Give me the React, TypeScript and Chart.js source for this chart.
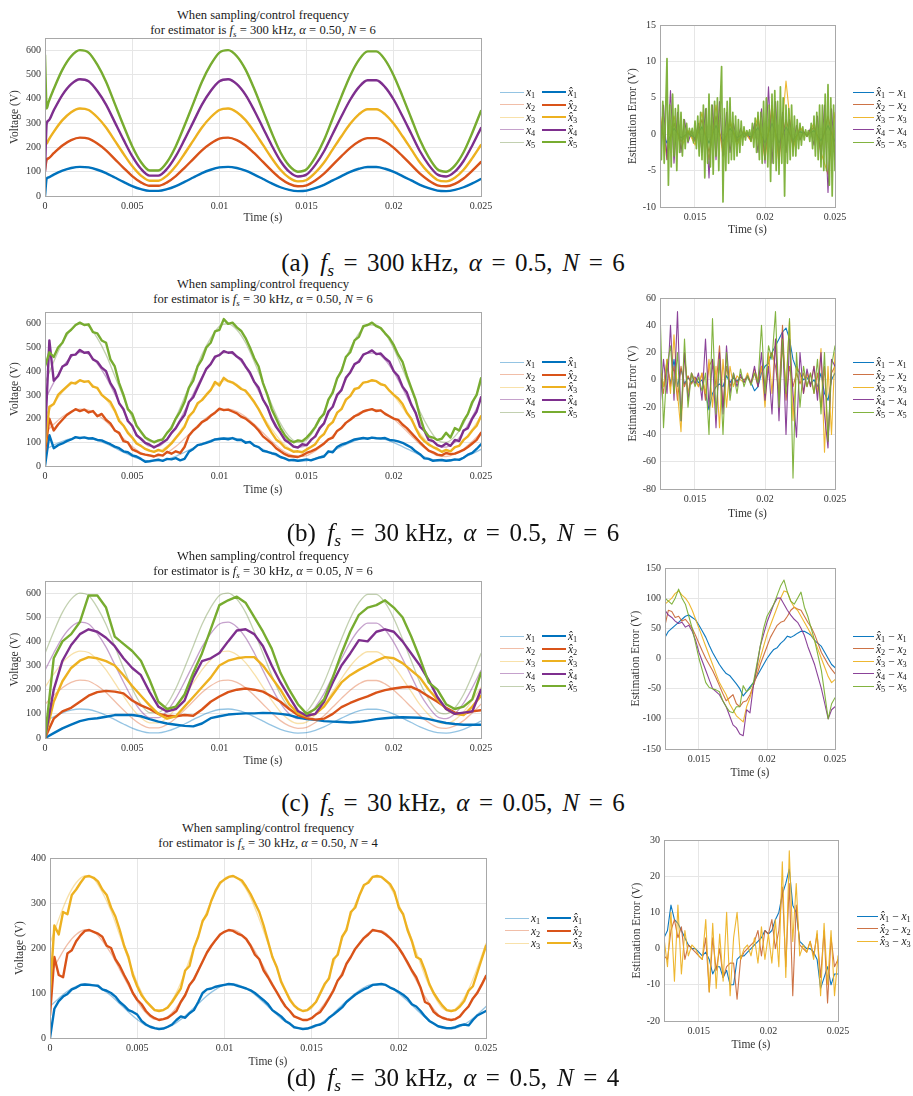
import React, { useEffect, useRef } from 'react';
import { Chart, registerables } from 'chart.js';
Chart.register(...registerables);

const FONT = "'Liberation Serif', 'Times New Roman', serif";
const COLORS = ['#0072BD', '#D95319', '#EDB120', '#7E2F8E', '#77AC30'];
const PALE = ['rgba(0,114,189,0.42)', 'rgba(217,83,25,0.38)', 'rgba(237,177,32,0.38)', 'rgba(126,47,142,0.45)', 'rgba(119,150,80,0.45)'];
const ERR = ['rgba(0,114,189,0.95)', 'rgba(200,100,50,0.9)', 'rgba(237,177,32,0.92)', 'rgba(126,47,142,0.9)', 'rgba(119,172,48,0.92)'];

// ---------- time grids ----------
const grid = (t0: number, dt: number, n: number) => Array.from({ length: n }, (_, i) => +(t0 + i * dt).toFixed(6));
const T_COARSE = grid(0, 0.0005, 51);
const T_FINE = grid(0, 0.00025, 101);
const TE_26 = grid(0.0125, 0.0005, 26);
const TE_51 = grid(0.0125, 0.00025, 51);
const TE_126 = grid(0.0125, 0.0001, 126);

// ---------- tick labels ----------
const X_TICKS_LEFT = [0, 0.005, 0.01, 0.015, 0.02, 0.025];
const X_TICKS_ERR = [0.015, 0.02, 0.025];
const Y_TICKS_V6 = [0, 100, 200, 300, 400, 500, 600];
const Y_TICKS_V4 = [0, 100, 200, 300, 400];
const Y_TICKS_EA = [-10, -5, 0, 5, 10, 15];
const Y_TICKS_EB = [-80, -60, -40, -20, 0, 20, 40, 60];
const Y_TICKS_EC = [-150, -100, -50, 0, 50, 100, 150];
const Y_TICKS_ED = [-20, -10, 0, 10, 20, 30];

// ---------- true signals x1..x5 (V), t = 0 : 0.0005 : 0.025 ----------
const X1 = [70,88,104,115,120,118,108,94,76,58, 41,28,21,21,28,41,58,76,94,108, 118,120,115,104,88,70,52,36,25,20, 22,32,46,64,82,99,112,119,119,112, 99,82,64,46,32,22,20,25,36,52, 70];
const X2 = [140,176,208,230,240,236,216,188,152,116, 82,56,42,42,56,82,116,152,188,216, 236,240,230,208,176,140,104,72,50,40, 44,64,92,128,164,198,224,238,238,224, 198,164,128,92,64,44,40,50,72,104, 140];
const X3 = [210,264,312,345,360,354,324,282,228,174, 123,84,63,63,84,123,174,228,282,324, 354,360,345,312,264,210,156,108,75,60, 66,96,138,192,246,297,336,357,357,336, 297,246,192,138,96,66,60,75,108,156, 210];
const X4 = [280,352,416,460,480,472,432,376,304,232, 164,112,84,84,112,164,232,304,376,432, 472,480,460,416,352,280,208,144,100,80, 88,128,184,256,328,396,448,476,476,448, 396,328,256,184,128,88,80,100,144,208, 280];
const X5 = [350,440,520,575,600,590,540,470,380,290, 205,140,105,105,140,205,290,380,470,540, 590,600,575,520,440,350,260,180,125,100, 110,160,230,320,410,495,560,595,595,560, 495,410,320,230,160,110,100,125,180,260, 350];
const X_ALL = [X1, X2, X3, X4, X5];

// ---------- (a) 300 kHz: start-up transient of the estimates, t = 0, 0.0001, 0.0002 ----------
const T_HEAD = [0, 0.0001, 0.0002];
const A_HEAD1 = [0, 72, 76];
const A_HEAD2 = [105, 150, 155];
const A_HEAD3 = [250, 215, 230];
const A_HEAD4 = [100, 300, 310];
const A_HEAD5 = [580, 360, 385];

// ---------- (b) 30 kHz, alpha 0.5, estimates, t = 0 : 0.00025 : 0.025 ----------
const B_HAT1 = [0,130,75,88,95,105,112,122,118,121, 116,117,110,108,100,92,82,75,62,58, 45,40,30,18,20,24,27,22,30,28, 33,24,30,60,72,88,92,98,104,112, 114,116,113,118,110,111,98,102,86,80, 64,60,54,50,38,32,24,26,22,25, 28,24,30,36,40,62,58,80,90,96, 104,112,115,118,115,120,117,116,118,110, 108,104,98,88,78,62,50,32,30,22, 24,26,22,24,28,26,35,48,55,72, 92];
const B_HAT2 = [60,200,150,175,195,215,228,240,232,238, 226,232,210,220,195,180,150,140,105,100, 70,62,52,48,45,40,48,44,60,52, 62,55,80,128,150,165,185,195,212,225, 242,236,238,230,222,208,200,185,170,150, 125,110,95,75,62,50,42,40,38,45, 55,62,70,82,95,112,120,148,160,182, 195,210,218,230,236,240,232,235,220,210, 200,195,175,160,140,120,100,82,65,58, 48,45,55,50,52,60,68,80,95,110, 140];
const B_HAT3 = [90,250,262,300,318,335,352,348,362,355, 358,335,330,300,285,270,235,190,170,140, 120,95,85,72,65,60,68,62,78,95, 118,140,165,210,228,265,278,300,320,355, 340,372,358,352,340,325,318,295,270,240, 205,170,140,112,98,78,70,60,62,58, 70,80,92,120,135,170,185,225,240,280, 295,325,330,352,355,362,358,345,340,318, 300,285,262,225,200,160,125,105,90,80, 72,60,68,62,80,85,110,125,150,170, 210];
const B_HAT4 = [120,530,360,380,420,430,468,470,490,478, 480,450,440,415,400,350,320,265,240,190, 170,130,115,98,90,78,88,100,112,140, 160,190,215,270,290,330,370,410,430,462, 468,485,478,480,462,450,420,395,355,330, 280,250,200,165,140,110,98,82,78,92, 88,110,125,160,180,230,250,300,320,372, 395,430,440,470,478,488,472,475,455,440, 400,380,335,310,260,225,165,150,110,105, 88,82,95,85,110,105,150,160,200,230, 290];
const B_HAT5 = [420,480,460,500,520,560,575,595,605,595, 598,565,560,530,520,450,420,350,300,240, 220,170,145,120,110,100,108,112,140,160, 200,230,270,330,360,420,450,500,520,568, 575,620,600,605,585,570,540,500,455,420, 350,300,240,200,160,130,110,100,108,105, 120,140,165,200,220,280,310,370,400,460, 480,530,545,590,595,605,590,582,560,540, 510,470,440,380,330,280,210,150,125,120, 110,115,140,120,160,150,190,220,270,300, 370];

// ---------- (c) 30 kHz, alpha 0.05, estimates, t = 0 : 0.0005 : 0.025 ----------
const C_HAT1 = [0,20,40,55,70,78,82,88,95,95, 95,90,78,68,60,55,50,48,60,82, 90,97,100,102,102,104,103,100,95,85, 78,75,70,68,66,64,67,72,78,82, 85,86,85,84,78,70,62,58,55,55, 55];
const C_HAT2 = [0,80,110,125,150,175,190,195,192,185, 155,135,120,100,92,90,95,92,118,150, 172,190,200,205,200,192,172,150,120,95, 82,76,80,100,128,145,160,172,188,198, 205,210,212,195,172,150,125,105,100,110, 115];
const C_HAT3 = [0,150,235,290,320,335,330,318,300,260, 215,175,135,100,80,90,130,170,210,250, 300,320,330,335,335,300,250,200,140,102, 90,100,130,180,230,260,282,300,320,335, 330,310,280,250,200,160,120,100,95,130, 175];
const C_HAT4 = [0,200,320,385,430,450,440,415,380,330, 290,260,190,130,110,120,155,250,318,330, 352,400,445,450,430,380,300,230,170,112, 92,100,150,230,300,350,405,400,440,450, 440,400,350,300,240,170,120,100,105,110, 200];
const C_HAT5 = [0,330,400,430,480,590,590,540,420,390, 360,320,240,150,120,130,180,270,350,450, 550,570,585,560,500,440,370,270,200,140, 100,120,160,250,350,440,510,540,550,570, 540,500,420,330,230,200,140,120,130,160, 270];

// ---------- (d) 30 kHz, alpha 0.5, N = 4, estimates, t = 0 : 0.00025 : 0.025 ----------
const D_HAT1 = [0,65,82,92,98,108,112,118,119,118, 117,116,108,105,100,92,80,72,62,58, 52,38,30,25,22,20,21,25,30,40, 48,45,55,62,80,100,108,110,114,116, 118,120,119,116,113,110,106,100,92,84, 75,62,55,48,38,32,24,22,20,21, 24,28,30,35,45,52,60,68,80,88, 96,102,108,112,118,119,120,118,112,108, 102,96,88,75,70,60,48,38,32,26, 24,22,22,24,28,30,28,40,50,55, 60];
const D_HAT2 = [50,180,140,135,188,195,215,228,238,240, 236,232,225,205,200,175,160,140,122,100, 85,75,60,50,44,40,42,45,52,60, 80,95,118,130,150,170,190,205,218,230, 236,240,238,232,228,220,205,185,175,150, 135,118,102,85,70,60,48,44,40,40, 44,52,58,72,88,105,128,140,165,180, 198,210,222,230,240,238,236,230,222,212, 200,185,168,150,135,112,80,75,58,50, 45,42,40,42,48,60,70,88,100,118, 138];
const D_HAT3 = [100,250,230,280,275,318,330,345,358,360, 356,348,330,318,290,270,240,205,180,140, 115,95,82,72,62,60,62,68,80,95, 110,150,160,200,225,260,275,305,328,345, 352,358,360,355,350,336,320,300,280,250, 215,180,158,125,105,85,72,64,60,62, 70,80,100,120,132,175,185,225,240,280, 290,318,340,345,358,360,358,350,342,325, 290,275,240,215,180,175,150,120,100,85, 72,62,60,62,70,82,105,115,145,175, 205];

// ---------- estimation errors ----------
// (a): blue/red/yellow on 0.0005 grid, purple on 0.00025 grid, green on 0.0001 grid
const EA_BLUE = [1,-1.2,0.8,-0.5,0.1,-0.5,1,-1.2,1.2,-1, 0.8,-0.5,0.1,-0.4,0.9,-1.2,1.5,-1.2,1,-0.8, 0.4,-0.1,0.5,-0.9,1.2,-1];
const EA_RED = [2,-2.5,1.5,-1,0.3,-1,2,-2.5,2.5,-2, 1.5,-1,0.3,-0.8,1.8,-2.5,3,-2.5,2,-1.5, 0.8,-0.2,1,-1.8,2.5,-2];
const EA_YELLOW = [3,-3.5,2.5,-2,0.5,-1.5,3,-3.5,4,-3, 2,-1.5,0.5,-1,2.5,-3.5,4,-4,7.3,-2, 1,-0.3,1.5,-2.5,-5.5,3];
const EA_PURPLE = [-3,4,-3.5,6,-4,3,-2.5,2,-1.2,0.4, -0.8,1.5,-2.5,3.5,-6,4,-3.5,4.5,-3,3, -2.5,1.5,-1,0.8,-0.4,0.2,-0.8,1.5,-2.5,3.5, -4,6.5,-4,4.5,-3.5,3,-2.5,2,-1.5,1.2, -0.8,0.4,-0.3,0.8,-1.5,2.5,-3.5,4,-8,3.5, -3.5];
const EA_GREEN = [2.5,-3.5,4.5,-4,3,10.4,-7,4,-4.5,5.5, -3,3.5,-5,4,-2.5,3,-3,2,-2,1.5, -1,0.8,-0.3,0.8,-1.2,1.8,-2,2.5,-3,3, -3.5,4,-6,3.5,-4,5.5,-4.5,4,-5.5,4.5, -3,5,-5,4,9.3,-9.3,3.5,-5,4.5,-4, 5,-3.5,3,-3.5,2.5,-3,2,-2.5,1.8,-1.5, 1,-0.8,0.5,-0.2,0.6,-1,1.5,-1.8,2.2,-2.5, 3,-3.5,3,-4,4.5,-3.5,5,-4.5,4,-6.5, 5.5,-4,6,-5,4.5,-5.5,6.5,-4,5,-8.5, 4,-4,3.5,-3.5,4,-3,2.5,-3,2,-2, 1.5,-1.5,1,-0.8,0.6,-0.3,0.5,-1,1.5,-2, 2.5,-3,3,-3.5,4,-4.5,4,-5,5.5,-5, 6.8,-7,5,-8.5,4,-5];
// (b), (c), (d): 0.00025 grid
const EB_BLUE = [3,-5,10,-3,15,-5,8,-3,2,-2, 2,-2,0,-10,-22,-10,-5,-3,-5,3, -2,2,-1,2,0,2,-2,-8,-5,5, 10,12,20,25,30,35,38,30,15,8, 5,0,2,-3,0,-5,5,-10,-15,0, 5];
const EB_RED = [5,-10,15,-5,10,-15,10,-5,3,-3, 2,-5,5,-15,10,15,-5,25,-20,10, -5,3,-2,2,0,2,-2,5,-5,10, -5,15,20,10,-10,40,-15,10,-5,5, -3,5,-5,5,-10,5,-20,10,-45,5, 10];
const EB_YELLOW = [10,-5,15,-10,33,-10,-38,20,-10,5, 0,-5,5,-10,15,-20,10,-35,15,-20, 10,-5,3,0,-2,5,-3,8,0,10, -20,20,-10,30,-15,25,-5,43,-30,10, 5,-10,5,-5,10,-10,23,-53,10,-40, 20];
const EB_PURPLE = [-20,15,-10,40,-15,50,-30,20,-15,5, -3,5,-15,30,-20,15,-35,20,-25,25, -10,5,-5,4,-2,3,-3,10,-5,20, -15,10,-25,30,-30,35,-40,30,-10,-42, 20,-10,8,-5,10,-15,20,-25,-50,15, 10];
const EB_GREEN = [52,-35,10,25,-10,20,-30,30,-20,5, -5,2,-8,5,-40,45,-25,15,-40,20, -15,5,-10,8,-5,3,-4,5,-2,40, -10,25,15,50,-20,30,-10,45,-72,20, -20,10,-5,5,-10,15,-25,20,-45,10, 25];
const EC_BLUE = [35,45,50,55,60,65,70,72,68,64, 55,45,35,22,10,0,-10,-18,-25,-28, -35,-42,-50,-62,-55,-47,-40,-30,-20,-10, 0,8,15,18,25,30,37,35,38,42, 45,45,42,38,30,25,20,10,0,-10, -15];
const EC_RED = [55,80,78,68,70,62,65,58,50,38, 25,12,0,-10,-20,-32,-45,-58,-70,-65, -60,-75,-80,-72,-70,-60,-45,-28,-10,5, 20,35,45,55,60,62,70,80,85,82, 80,70,60,52,40,25,10,0,-10,-18, -25];
const EC_YELLOW = [90,95,100,108,112,105,100,92,80,65, 50,35,20,5,-10,-25,-40,-50,-60,-75, -85,-95,-100,-105,-80,-65,-45,-20,0,20, 40,55,70,85,100,112,110,95,85,80, 70,60,50,40,30,15,0,-15,-30,-40, -35];
const EC_PURPLE = [80,72,68,62,58,60,52,55,45,30, 10,-5,-20,-35,-50,-55,-60,-70,-80,-95, -110,-115,-125,-128,-85,-90,-45,-15,20,40, 60,75,90,100,100,90,80,72,65,60, 50,38,20,5,-10,-30,-50,-75,-100,-85, -80];
const EC_GREEN = [100,95,90,100,115,100,90,70,50,25, 0,-20,-40,-48,-50,-52,-55,-70,-80,-88, -90,-80,-80,-45,-55,-50,-40,-10,20,50, 70,80,90,105,120,130,110,95,90,100, 110,85,70,50,30,5,-20,-60,-100,-75, -65];
const ED_BLUE = [3,5,12,8,7,5,3,1,0,0, -1,-2,-1,-3,-7,-5,-5,-8,-6,-10, -10,-3,-2,-2,-1,0,1,2,3,5, 4,5,8,10,15,18,22,12,10,2, 1,0,0,-1,-3,-11,-8,-5,-10,-7, -7];
const ED_RED = [-2,-3,5,8,3,6,-3,1,0,-1, -2,-3,3,-12,3,-6,0,-8,-5,-4, -4,-14,-3,-1,0,1,2,5,-2,5, 4,8,0,5,17,-5,18,-13,12,1, 0,-1,2,-2,4,-8,5,-15,3,-5, -3];
const ED_YELLOW = [3,-5,10,-9,12,-7,5,-2,1,0, -2,-3,8,-12,7,-11,4,-9,10,-13, 3,10,-3,0,1,-2,3,-4,6,-3, 4,-4,8,-5,24,-8,27,2,18,-2, 1,-1,2,-3,5,-13,7,-10,5,-13, -2];

// ---------- helpers ----------
type Pt = { x: number; y: number };
const pts = (ts: number[], ys: number[]): Pt[] => ys.map((y, i) => ({ x: ts[i], y }));

const boxPlugin = {
  id: 'box',
  afterDraw(chart: any) {
    const { ctx, chartArea } = chart;
    const { left, top, right, bottom } = chartArea;
    ctx.save();
    ctx.strokeStyle = '#a8a8a8';
    ctx.lineWidth = 1;
    ctx.strokeRect(Math.round(left) + 0.5, Math.round(top) + 0.5, Math.round(right - left), Math.round(bottom - top));
    ctx.restore();
  },
};

interface Geo { L: number; R: number; T: number; B: number; titleX: number; timeY: number }
interface Props {
  geo: Geo; xMin: number; xMax: number; xTicks: number[]; yMin: number; yMax: number; yTicks: number[];
  yTitle: string; datasets: any[];
}

const AX_TITLE_SIZE = 11.5;
const TITLE_OFF = (AX_TITLE_SIZE * 1.2) / 2;

function PlotCanvas(p: Props) {
  const ref = useRef<HTMLCanvasElement | null>(null);
  const g = p.geo;
  const cl = Math.round(g.titleX - TITLE_OFF);
  const padT = 8;
  const padR = 22;
  const top = g.T - padT;
  const width = g.R + padR - cl;
  const height = Math.round(g.timeY + TITLE_OFF) - top;
  const yW = g.L - cl;
  const xH = top + height - g.B;
  useEffect(() => {
    if (!ref.current) return;
    const tickFont = { family: FONT, size: 10 };
    const axTitleFont = { family: FONT, size: AX_TITLE_SIZE };
    const gridOpt = { color: '#e6e6e6', drawTicks: false, lineWidth: 1 };
    const chart = new Chart(ref.current, {
      type: 'line',
      data: { datasets: p.datasets },
      options: {
        animation: false,
        responsive: false,
        events: [],
        layout: { padding: { top: padT, right: padR, left: 0, bottom: 0 } },
        plugins: { legend: { display: false }, title: { display: false }, tooltip: { enabled: false } },
        elements: { point: { radius: 0 }, line: { borderJoinStyle: 'round', borderCapStyle: 'round' } },
        scales: {
          x: {
            type: 'linear', min: p.xMin, max: p.xMax,
            afterBuildTicks: (s: any) => { s.ticks = p.xTicks.map((v) => ({ value: v })); },
            afterFit: (s: any) => { s.height = xH; },
            ticks: { font: tickFont, color: '#333', padding: 4, maxRotation: 0, autoSkip: false, callback: (v: any) => String(+Number(v).toFixed(4)) },
            grid: gridOpt, border: { display: false },
            title: { display: true, text: 'Time (s)', font: axTitleFont, color: '#333', padding: 0 },
          },
          y: {
            type: 'linear', min: p.yMin, max: p.yMax,
            afterBuildTicks: (s: any) => { s.ticks = p.yTicks.map((v) => ({ value: v })); },
            afterFit: (s: any) => { s.width = yW; },
            ticks: { font: tickFont, color: '#333', padding: 4, autoSkip: false, callback: (v: any) => String(v) },
            grid: gridOpt, border: { display: false },
            title: { display: true, text: p.yTitle, font: axTitleFont, color: '#333', padding: 0 },
          },
        },
      } as any,
      plugins: [boxPlugin],
    });
    return () => chart.destroy();
  }, []);
  return <canvas ref={ref} width={width} height={height} style={{ position: 'absolute', left: cl, top, width, height }} />;
}

// ---------- dataset builders ----------
function leftSets(n: number, hats: Pt[][], smoothHat: boolean) {
  const ds: any[] = [];
  for (let i = 0; i < n; i++) {
    ds.push({ data: pts(T_COARSE, X_ALL[i]), borderColor: PALE[i], borderWidth: 1.3, cubicInterpolationMode: 'monotone' });
  }
  hats.forEach((h, i) => {
    ds.push({ data: h, borderColor: COLORS[i], borderWidth: 2.4, ...(smoothHat ? { cubicInterpolationMode: 'monotone' } : { tension: 0 }) });
  });
  return ds.map((d, i) => ({ ...d, order: -i, pointRadius: 0, fill: false }));
}
function errSets(list: { t: number[]; y: number[]; w?: number }[]) {
  return list.map((e, i) => ({ data: pts(e.t, e.y), borderColor: ERR[i], borderWidth: e.w ?? 1.1, tension: 0, order: -i, pointRadius: 0, fill: false }));
}

const A_HEADS = [A_HEAD1, A_HEAD2, A_HEAD3, A_HEAD4, A_HEAD5];
const A_HATS = A_HEADS.map((h, i) => [...pts(T_HEAD, h), ...pts(T_COARSE.slice(1), X_ALL[i].slice(1))]);
const B_HATS = [B_HAT1, B_HAT2, B_HAT3, B_HAT4, B_HAT5].map((y) => pts(T_FINE, y));
const C_HATS = [C_HAT1, C_HAT2, C_HAT3, C_HAT4, C_HAT5].map((y) => pts(T_COARSE, y));
const D_HATS = [D_HAT1, D_HAT2, D_HAT3].map((y) => pts(T_FINE, y));

// ---------- text pieces ----------
const subStyle: React.CSSProperties = { fontSize: '0.72em', verticalAlign: '-0.28em', lineHeight: 0 };

function PlotTitle({ cx, y1, y2, fs, alpha, n }: { cx: number; y1: number; y2: number; fs: string; alpha: string; n: string }) {
  const st: React.CSSProperties = { position: 'absolute', left: cx - 160, width: 320, textAlign: 'center', font: `12.6px ${FONT}`, lineHeight: '15px', color: '#1a1a1a', whiteSpace: 'nowrap' };
  return (
    <>
      <div style={{ ...st, top: y1 - 7.5 }}>When sampling/control frequency</div>
      <div style={{ ...st, top: y2 - 7.5 }}>
        for estimator is <i>f</i><sub style={subStyle}><i>s</i></sub> = {fs} kHz, <i>α</i> = {alpha}, <i>N</i> = {n}
      </div>
    </>
  );
}

function LegendLeft({ x, y, n }: { x: number; y: number; n: number }) {
  const rows = [];
  for (let i = 0; i < n; i++) {
    rows.push(
      <div key={i} style={{ position: 'absolute', left: x, top: y + i * 12.5 - 7, height: 14, display: 'flex', alignItems: 'center', font: `11.5px ${FONT}`, color: '#222', whiteSpace: 'nowrap' }}>
        <span style={{ display: 'inline-block', width: 24, borderTop: `1.4px solid ${PALE[i]}` }} />
        <span style={{ display: 'inline-block', width: 16, marginLeft: 2 }}><i>x</i><sub style={subStyle}>{i + 1}</sub></span>
        <span style={{ display: 'inline-block', width: 24, borderTop: `2.6px solid ${COLORS[i]}` }} />
        <span style={{ display: 'inline-block', marginLeft: 2 }}><i>x&#770;</i><sub style={subStyle}>{i + 1}</sub></span>
      </div>
    );
  }
  return <>{rows}</>;
}

function LegendRight({ x, y, n }: { x: number; y: number; n: number }) {
  const rows = [];
  for (let i = 0; i < n; i++) {
    rows.push(
      <div key={i} style={{ position: 'absolute', left: x, top: y + i * 12.5 - 7, height: 14, display: 'flex', alignItems: 'center', font: `11.5px ${FONT}`, color: '#222', whiteSpace: 'nowrap' }}>
        <span style={{ display: 'inline-block', width: 21, borderTop: `1.6px solid ${ERR[i]}` }} />
        <span style={{ display: 'inline-block', marginLeft: 2 }}>
          <i>x&#770;</i><sub style={subStyle}>{i + 1}</sub> − <i>x</i><sub style={subStyle}>{i + 1}</sub>
        </span>
      </div>
    );
  }
  return <>{rows}</>;
}

const Eq = () => <span style={{ margin: '0 0.38em' }}>=</span>;

function Caption({ y, tag, fs, alpha, n }: { y: number; tag: string; fs: string; alpha: string; n: string }) {
  return (
    <div style={{ position: 'absolute', left: 0, width: 906, top: y - 15, textAlign: 'center', font: `25px ${FONT}`, lineHeight: '30px', color: '#111', whiteSpace: 'nowrap' }}>
      ({tag})<span style={{ marginLeft: '0.45em' }} /><i>f</i><sub style={{ fontSize: '0.7em', verticalAlign: '-0.3em', lineHeight: 0 }}><i>s</i></sub>
      <Eq />{fs} kHz,<span style={{ marginLeft: '0.4em' }} /><i>α</i><Eq />{alpha},<span style={{ marginLeft: '0.4em' }} /><i>N</i><Eq />{n}
    </div>
  );
}

// ---------- geometry ----------
const GL = [
  { L: 45, R: 481, T: 36, B: 196, titleX: 15, timeY: 218 },
  { L: 45, R: 481, T: 310, B: 466, titleX: 15, timeY: 490 },
  { L: 45, R: 481, T: 579, B: 738, titleX: 15, timeY: 761 },
  { L: 50, R: 486, T: 856, B: 1038, titleX: 20, timeY: 1062 },
];
const GR = [
  { L: 660, R: 835, T: 23, B: 207, titleX: 633, timeY: 230 },
  { L: 660, R: 835, T: 296, B: 489, titleX: 633, timeY: 514 },
  { L: 665, R: 835, T: 566, B: 749, titleX: 636, timeY: 773 },
  { L: 664, R: 838, T: 838, B: 1021, titleX: 637, timeY: 1045 },
];

export default function App() {
  useEffect(() => {
    document.body.style.margin = '0';
    document.body.style.background = '#fff';
  }, []);
  const ea = errSets([{ t: TE_26, y: EA_BLUE }, { t: TE_26, y: EA_RED }, { t: TE_26, y: EA_YELLOW }, { t: TE_51, y: EA_PURPLE }, { t: TE_126, y: EA_GREEN, w: 1.7 }]);
  const eb = errSets([EB_BLUE, EB_RED, EB_YELLOW, EB_PURPLE, EB_GREEN].map((y) => ({ t: TE_51, y })));
  const ec = errSets([EC_BLUE, EC_RED, EC_YELLOW, EC_PURPLE, EC_GREEN].map((y) => ({ t: TE_51, y })));
  const ed = errSets([ED_BLUE, ED_RED, ED_YELLOW].map((y) => ({ t: TE_51, y })));
  const common = { xMin: 0, xMax: 0.025, xTicks: X_TICKS_LEFT, yTitle: 'Voltage (V)' };
  const commonE = { xMin: 0.0125, xMax: 0.025, xTicks: X_TICKS_ERR, yTitle: 'Estimation Error (V)' };
  return (
    <div style={{ position: 'absolute', left: 0, top: 0, width: 913, height: 1096, background: '#fff', overflow: 'hidden' }}>
      {/* (a) */}
      <PlotTitle cx={263} y1={15} y2={30} fs="300" alpha="0.50" n="6" />
      <PlotCanvas geo={GL[0]} {...common} yMin={0} yMax={650} yTicks={Y_TICKS_V6} datasets={leftSets(5, A_HATS, true)} />
      <LegendLeft x={500} y={92} n={5} />
      <PlotCanvas geo={GR[0]} {...commonE} yMin={-10} yMax={15} yTicks={Y_TICKS_EA} datasets={ea} />
      <LegendRight x={853} y={92} n={5} />
      <Caption y={263} tag="a" fs="300" alpha="0.5" n="6" />

      {/* (b) */}
      <PlotTitle cx={263} y1={284} y2={299} fs="30" alpha="0.50" n="6" />
      <PlotCanvas geo={GL[1]} {...common} yMin={0} yMax={650} yTicks={Y_TICKS_V6} datasets={leftSets(5, B_HATS, false)} />
      <LegendLeft x={500} y={362} n={5} />
      <PlotCanvas geo={GR[1]} {...commonE} yMin={-80} yMax={60} yTicks={Y_TICKS_EB} datasets={eb} />
      <LegendRight x={853} y={362} n={5} />
      <Caption y={533} tag="b" fs="30" alpha="0.5" n="6" />

      {/* (c) */}
      <PlotTitle cx={263} y1={556} y2={571} fs="30" alpha="0.05" n="6" />
      <PlotCanvas geo={GL[2]} {...common} yMin={0} yMax={650} yTicks={Y_TICKS_V6} datasets={leftSets(5, C_HATS, false)} />
      <LegendLeft x={500} y={636} n={5} />
      <PlotCanvas geo={GR[2]} {...commonE} yMin={-150} yMax={150} yTicks={Y_TICKS_EC} datasets={ec} />
      <LegendRight x={853} y={636} n={5} />
      <Caption y={803} tag="c" fs="30" alpha="0.05" n="6" />

      {/* (d) */}
      <PlotTitle cx={268} y1={828} y2={843} fs="30" alpha="0.50" n="4" />
      <PlotCanvas geo={GL[3]} {...common} yMin={0} yMax={400} yTicks={Y_TICKS_V4} datasets={leftSets(3, D_HATS, false)} />
      <LegendLeft x={505} y={918} n={3} />
      <PlotCanvas geo={GR[3]} {...commonE} yMin={-20} yMax={30} yTicks={Y_TICKS_ED} datasets={ed} />
      <LegendRight x={857} y={916} n={3} />
      <Caption y={1078} tag="d" fs="30" alpha="0.5" n="4" />
    </div>
  );
}
